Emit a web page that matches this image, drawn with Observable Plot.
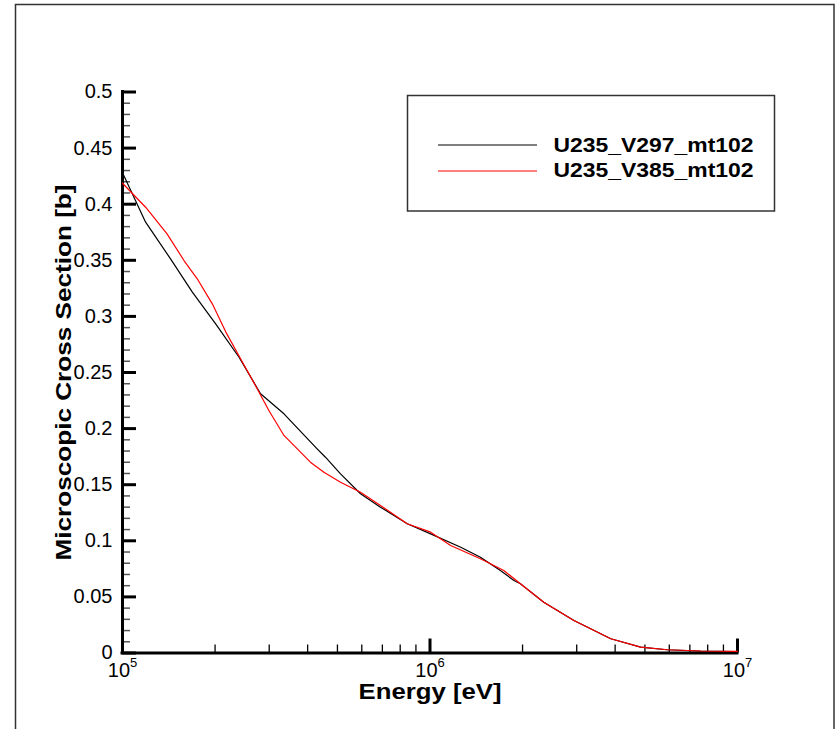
<!DOCTYPE html>
<html><head><meta charset="utf-8">
<script src="https://cdn.jsdelivr.net/npm/d3@7"></script>
<script src="https://cdn.jsdelivr.net/npm/@observablehq/plot@0.6"></script>
<style>body{margin:0;background:#fff}</style>
</head><body><div id="chart"></div>
<script>
const seriesNames = ["U235_V297_mt102", "U235_V385_mt102"];
const seriesColors = ["#000000", "#ff0000"];

const v297Energy = [1.0e5, 1.189e5, 1.435e5, 1.687e5, 2.009e5, 2.393e5, 2.812e5, 3.350e5, 4.295e5, 4.571e5, 5.117e5, 5.943e5, 6.902e5, 8.433e5, 1.005e6, 1.259e6, 1.459e6, 1.694e6, 1.875e6, 1.968e6, 2.344e6, 2.938e6, 3.873e6, 4.842e6, 5.902e6, 7.586e6, 1.0e7];
const v297Xs = [0.428, 0.384, 0.351, 0.3216, 0.2934, 0.2636, 0.231, 0.2132, 0.182, 0.1745, 0.1597, 0.1419, 0.130, 0.1152, 0.1062, 0.0943, 0.0854, 0.0735, 0.0646, 0.0617, 0.0453, 0.029, 0.0127, 0.0052, 0.0029, 0.0016, 0.0013];

const v385Energy = [1.0e5, 1.189e5, 1.396e5, 1.585e5, 1.750e5, 1.959e5, 2.168e5, 2.421e5, 2.742e5, 2.992e5, 3.350e5, 3.793e5, 4.083e5, 4.519e5, 5.117e5, 5.943e5, 6.902e5, 8.433e5, 1.005e6, 1.167e6, 1.459e6, 1.738e6, 1.968e6, 2.344e6, 2.938e6, 3.873e6, 4.842e6, 5.902e6, 7.586e6, 1.0e7];
const v385Xs = [0.4187, 0.3973, 0.3736, 0.3498, 0.3335, 0.3112, 0.286, 0.2622, 0.2355, 0.2161, 0.1939, 0.179, 0.1701, 0.1611, 0.1522, 0.1433, 0.1315, 0.1152, 0.1077, 0.0958, 0.084, 0.0735, 0.0617, 0.0453, 0.029, 0.0127, 0.0052, 0.0029, 0.0018, 0.0015];

const xDomain = [1e5, 1e7];
const yDomain = [0, 0.5];
const xMajorTicks = [1e5, 1e6, 1e7];
const xMinorTicks = [2e5, 3e5, 4e5, 5e5, 6e5, 7e5, 8e5, 9e5, 2e6, 3e6, 4e6, 5e6, 6e6, 7e6, 8e6, 9e6];
const yMajorTicks = [0, 0.05, 0.1, 0.15, 0.2, 0.25, 0.3, 0.35, 0.4, 0.45, 0.5];
const yMinorTicks = [0.01, 0.02, 0.03, 0.04, 0.06, 0.07, 0.08, 0.09, 0.11, 0.12, 0.13, 0.14, 0.16, 0.17, 0.18, 0.19, 0.21, 0.22, 0.23, 0.24, 0.26, 0.27, 0.28, 0.29, 0.31, 0.32, 0.33, 0.34, 0.36, 0.37, 0.38, 0.39, 0.41, 0.42, 0.43, 0.44, 0.46, 0.47, 0.48, 0.49];
const xTitle = "Energy [eV]";
const yTitle = "Microscopic Cross Section [b]";

const rows = [
  ...v297Energy.map((e, i) => ({series: seriesNames[0], E: e, xs: v297Xs[i]})),
  ...v385Energy.map((e, i) => ({series: seriesNames[1], E: e, xs: v385Xs[i]}))
];

const chart = Plot.plot({
  width: 838, height: 729,
  marginLeft: 122, marginRight: 101, marginTop: 91.5, marginBottom: 76.5,
  style: {fontFamily: "'Liberation Sans', Arial, sans-serif", color: "#000", background: "#fff"},
  x: {type: "log", domain: xDomain, label: null},
  y: {domain: yDomain, label: null},
  color: {domain: seriesNames, range: seriesColors},
  marks: [
    Plot.axisY({ticks: yMinorTicks, tickSize: 8, dx: 8, stroke: "#555", strokeWidth: 1.5, tickFormat: () => "", label: null}),
    Plot.axisY({ticks: yMajorTicks, tickSize: 14, dx: 14, strokeWidth: 3, tickFormat: () => "", label: null}),
    Plot.axisY({ticks: yMajorTicks, tickSize: 0, tickPadding: 10, fontSize: 20, tickFormat: d => String(d), label: null}),
    Plot.axisX({ticks: xMinorTicks, tickSize: 8, dy: -8, strokeWidth: 1.3, tickFormat: () => "", label: null}),
    Plot.axisX({ticks: xMajorTicks, tickSize: 14, dy: -14, strokeWidth: 3, tickFormat: () => "", label: null}),
    Plot.axisX({ticks: xMajorTicks, tickSize: 0, tickPadding: 9.5, fontSize: 20, tickFormat: d => "10^" + Math.round(Math.log10(d)), label: null}),
    Plot.ruleX([xDomain[0]], {y1: yDomain[0], y2: yDomain[1], strokeWidth: 3, strokeLinecap: "square"}),
    Plot.ruleY([yDomain[0]], {x1: xDomain[0], x2: xDomain[1], strokeWidth: 3, strokeLinecap: "square"}),
    Plot.line(rows, {x: "E", y: "xs", z: "series", stroke: "series", strokeWidth: 1.2}),
    Plot.text([xTitle], {text: d => d, frameAnchor: "bottom", dy: 39, fontSize: 22, fontWeight: "bold", lineAnchor: "middle", textAnchor: "middle"}),
    Plot.text([yTitle], {text: d => d, frameAnchor: "left", dx: -59, rotate: -90, fontSize: 22, fontWeight: "bold", lineAnchor: "middle", textAnchor: "middle"})
  ]
});

const svg = d3.select(chart);

// superscript exponents on x tick labels
svg.selectAll('g[aria-label="x-axis tick label"] text').each(function() {
  const t = d3.select(this);
  const s = t.text();
  if (!s.includes("^")) return;
  const [base, exp] = s.split("^");
  t.text(null);
  t.append("tspan").text(base);
  t.append("tspan").attr("dy", "-10").attr("font-size", 13).text(exp);
});

// stretch titles
svg.selectAll("text").filter(function() { return this.textContent === xTitle; })
  .attr("textLength", 143).attr("lengthAdjust", "spacingAndGlyphs");
svg.selectAll("text").filter(function() { return this.textContent === yTitle; })
  .attr("text-anchor", "middle")
  .attr("textLength", 376).attr("lengthAdjust", "spacingAndGlyphs");

// outer frame
svg.append("rect").attr("x", 15.5).attr("y", 4.5).attr("width", 818.5).attr("height", 740)
  .attr("fill", "none").attr("stroke", "#333").attr("stroke-width", 1.5);

// legend
const lg = svg.append("g").attr("aria-label", "legend").attr("text-anchor", "start");
lg.append("rect").attr("x", 407.5).attr("y", 95.5).attr("width", 367).attr("height", 115.5)
  .attr("fill", "#fff").attr("stroke", "#333").attr("stroke-width", 1.5);
seriesNames.forEach((name, i) => {
  lg.append("line").attr("x1", 438).attr("x2", 537)
    .attr("y1", 145 + i * 26).attr("y2", 145 + i * 26)
    .attr("stroke", seriesColors[i]).attr("stroke-width", 1.2);
  lg.append("text").attr("x", 553.5).attr("y", 152.3 + i * 24.4)
    .attr("text-anchor", "start")
    .attr("font-size", 19.5).attr("font-weight", "bold")
    .attr("textLength", 200).attr("lengthAdjust", "spacingAndGlyphs")
    .attr("fill", "#000").text(name);
});

document.getElementById("chart").appendChild(chart);
</script>
</body></html>
